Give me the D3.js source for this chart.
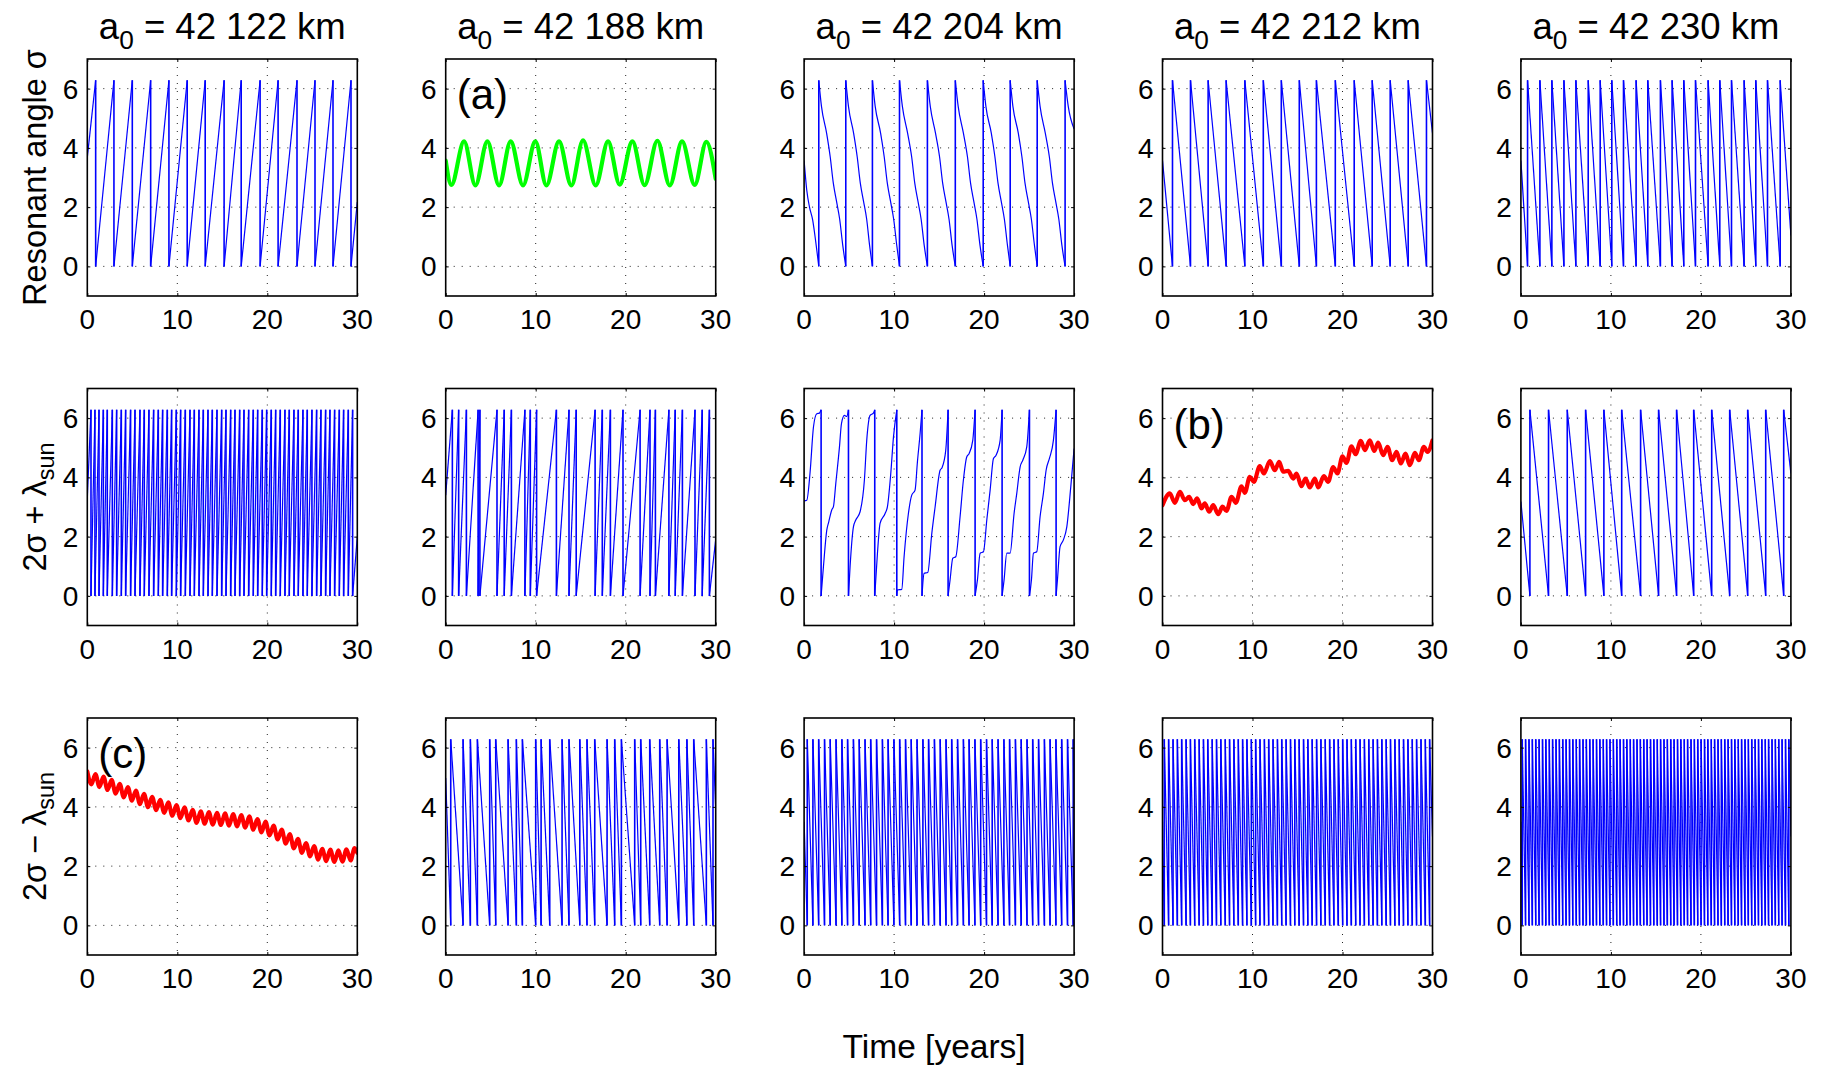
<!DOCTYPE html>
<html><head><meta charset="utf-8">
<script src="https://cdn.jsdelivr.net/npm/d3@7"></script>
<style>
body{margin:0;background:#fff}
svg text{font-family:"Liberation Sans",Arial,Helvetica,sans-serif;fill:#000}
</style></head>
<body><svg id="chart" width="1825" height="1069"></svg>
<script>
// ---------- shared axis data ----------
const TOP = 6.283;                 // 2*pi
const xDomain = [0, 30];
const yDomain = [-1, 7];
const xTicks = [0, 10, 20, 30];
const yTicks = [0, 2, 4, 6];
const columnTitles = ["42 122", "42 188", "42 204", "42 212", "42 230"];
const xLabel = "Time [years]";

// ---------- row 1 : resonant angle sigma ----------
const r1c1Start = 3.68, r1c1End = 2.17; // rising saw
const r1c1Wraps = [0.93, 2.96, 5.0, 7.04, 9.07, 11.1, 13.1, 15.2, 17.1, 19.2, 21.2, 23.3, 25.3, 27.3, 29.3];
const r1c2Green = [[0,3.57],[0.63,2.75],[2.04,4.22],[3.3,2.73],[4.63,4.22],[5.93,2.73],[7.22,4.22],[8.59,2.73],[9.96,4.22],[11.19,2.73],[12.59,4.22],[13.96,2.73],[15.26,4.25],[16.67,2.73],[18.04,4.22],[19.33,2.76],[20.74,4.22],[22.1,2.74],[23.52,4.24],[24.9,2.73],[26.26,4.22],[27.67,2.75],[28.96,4.2],[30,2.95]];
const r1c3Points = [
[0,3.57],[0.3,2.56],[0.6,2.0],[0.96,1.55],[1.22,1.0],[1.63,0],
[1.63,6.28],[1.93,5.4],[2.5,4.5],[2.9,3.7],[3.25,2.8],[3.6,2.2],[3.95,1.6],[4.3,0.7],[4.63,0],
[4.63,6.28],[4.93,5.4],[5.5,4.5],[5.9,3.7],[6.25,2.8],[6.6,2.2],[6.95,1.6],[7.28,0.7],[7.59,0],
[7.59,6.28],[7.9,5.4],[8.5,4.5],[8.9,3.7],[9.25,2.8],[9.6,2.2],[9.95,1.6],[10.3,0.7],[10.6,0],
[10.6,6.28],[10.92,5.4],[11.5,4.5],[11.95,3.7],[12.3,2.8],[12.65,2.2],[13.0,1.6],[13.35,0.7],[13.7,0],
[13.7,6.28],[14.02,5.4],[14.6,4.5],[15.05,3.7],[15.4,2.8],[15.75,2.2],[16.1,1.6],[16.45,0.7],[16.8,0],
[16.8,6.28],[17.12,5.4],[17.7,4.5],[18.15,3.7],[18.5,2.8],[18.85,2.2],[19.2,1.6],[19.55,0.7],[19.9,0],
[19.9,6.28],[20.2,5.4],[20.8,4.5],[21.2,3.7],[21.55,2.8],[21.9,2.2],[22.25,1.6],[22.6,0.7],[22.9,0],
[22.9,6.28],[23.2,5.4],[23.8,4.5],[24.2,3.7],[24.55,2.8],[24.9,2.2],[25.25,1.6],[25.6,0.7],[25.9,0],
[25.9,6.28],[26.22,5.4],[26.8,4.5],[27.25,3.7],[27.6,2.8],[27.95,2.2],[28.3,1.6],[28.65,0.7],[29.0,0],
[29.0,6.28],[29.35,5.4],[30,4.64]];
const r1c4Start = 3.57, r1c4End = 4.5; // falling saw
const r1c4Wraps = [1.11, 3.11, 5.07, 7.07, 9.15, 11.2, 13.2, 15.2, 17.1, 19.2, 21.3, 23.3, 25.3, 27.3, 29.33];
const r1c5Start = 3.57, r1c5End = 1.04; // falling saw
const r1c5Wraps = [0.74, 2.11, 3.44, 4.78, 6.11, 7.48, 8.81, 10.1, 11.4, 12.8, 14.1, 15.5, 16.8, 18.1, 19.4, 20.8, 22.1, 23.4, 24.8, 26.1, 27.4, 28.81];

// ---------- row 2 : 2 sigma + lambda_sun ----------
const r2c1Start = 3.3, r2c1End = 2.0; // rising saw
const r2c1Wraps = [0.41,0.85,1.3,1.78,2.22,2.78,3.26,3.78,4.26,4.81,5.3,5.85,6.33,6.85,7.37,7.89,8.37,8.89,9.37,9.89,10.37,10.89,11.41,11.89,12.41,12.89,13.41,13.89,14.41,14.93,15.41,15.93,16.41,16.93,17.41,17.93,18.44,18.93,19.44,19.93,20.44,20.93,21.44,21.96,22.44,22.96,23.44,23.96,24.44,24.96,25.48,25.96,26.48,26.96,27.48,28.0,28.48,29.0,29.48];
const r2c2Start = 3.4, r2c2End = 1.9; // rising saw
const r2c2Wraps = [0.74,1.44,2.3,3.6,3.8,5.7,6.5,7.3,8.8,9.4,10.1,12.3,13.7,14.5,16.6,17.4,18.3,19.7,21.6,22.7,23.3,24.8,25.5,26.3,27.7,28.5,29.3];
const r2c3Points = [
[0,3.21],[0.3,3.23],[0.67,4.19],[1.04,5.7],[1.41,6.15],[1.7,6.17],[1.89,6.28],
[1.89,0],[2.15,0.99],[2.52,2.22],[2.74,2.5],[3.07,2.9],[3.26,3.01],[3.52,3.79],[3.93,5.03],[4.15,5.81],[4.48,6.09],[4.74,6.06],[4.93,6.28],
[4.93,0],[5.11,0.99],[5.48,2.33],[5.74,2.56],[6.22,2.84],[6.7,3.91],[6.96,5.25],[7.33,6.09],[7.7,6.17],[7.85,6.28],
[7.85,0],[8.15,1.44],[8.44,2.45],[9.0,2.78],[9.26,3.01],[9.63,4.13],[9.93,5.36],[10.3,6.28],
[10.3,0],[10.37,0.2],[10.85,0.22],[11.11,1.32],[11.59,2.78],[11.96,3.4],[12.33,3.57],[12.59,4.52],[12.89,5.48],[13.1,6.28],
[13.1,0],[13.33,0.76],[13.74,0.79],[14.19,2.11],[14.56,3.01],[15.11,4.24],[15.33,4.33],[15.74,4.92],[16.0,6.28],
[16.0,0],[16.22,0.54],[16.52,1.27],[16.85,1.32],[17.33,2.67],[17.7,3.91],[18.07,4.69],[18.33,4.8],[18.74,5.25],[19.0,6.28],
[19.0,0],[19.26,0.54],[19.56,1.44],[19.93,1.49],[20.3,2.56],[20.67,3.57],[21.04,4.64],[21.33,4.75],[21.78,5.25],[22.0,6.28],
[22.0,0],[22.22,0.54],[22.52,1.44],[22.89,1.44],[23.33,2.78],[23.63,3.46],[24.0,4.35],[24.3,4.58],[24.74,5.03],[25.04,6.28],
[25.04,0],[25.26,0.54],[25.48,1.44],[25.85,1.49],[26.22,2.67],[26.59,3.46],[26.89,4.24],[27.26,4.64],[27.7,5.25],[28.0,6.28],
[28.0,0],[28.15,0.54],[28.44,1.66],[28.81,1.89],[29.19,2.33],[29.63,3.68],[30,4.97]];
const r2c4Red = [[0,3.06],[0.81,3.46],[1.37,3.14],[1.93,3.51],[2.48,3.23],[2.96,3.34],[3.41,3.1],[3.85,3.29],[4.33,2.95],[4.7,3.12],[5.19,2.84],[5.63,3.06],[6.19,2.76],[6.67,3.01],[7.11,2.87],[7.67,3.34],[8.15,3.14],[8.78,3.7],[9.15,3.48],[9.7,4.02],[10.15,3.85],[10.81,4.38],[11.26,4.13],[11.93,4.55],[12.48,4.24],[12.96,4.52],[13.41,4.19],[13.96,4.22],[14.52,3.96],[14.89,4.13],[15.44,3.7],[15.89,3.96],[16.37,3.66],[16.93,3.96],[17.3,3.66],[17.93,4.04],[18.41,3.85],[18.96,4.35],[19.44,4.13],[20.0,4.71],[20.44,4.49],[21.0,5.05],[21.44,4.78],[22.04,5.23],[22.48,4.92],[23.04,5.25],[23.52,4.89],[23.96,5.17],[24.52,4.75],[25.0,5.03],[25.52,4.58],[26.0,4.86],[26.48,4.47],[27.0,4.8],[27.48,4.41],[28.04,4.83],[28.48,4.58],[29.04,5.03],[29.44,4.86],[30,5.25]];
const r2c5Start = 3.18, r2c5End = 4.13; // falling saw
const r2c5Wraps = [1.0, 3.07, 5.15, 7.19, 9.22, 11.2, 13.3, 15.3, 17.3, 19.2, 21.2, 23.2, 25.2, 27.2, 29.2];

// ---------- row 3 : 2 sigma - lambda_sun ----------
const r3c1Red = [[0,5.2],[0.45,4.76],[0.9,5.11],[1.35,4.67],[1.8,5.02],[2.25,4.57],[2.7,4.91],[3.15,4.45],[3.6,4.78],[4.05,4.32],[4.5,4.67],[4.95,4.21],[5.4,4.55],[5.85,4.09],[6.3,4.44],[6.75,3.99],[7.2,4.34],[7.65,3.89],[8.1,4.24],[8.55,3.8],[9.0,4.15],[9.45,3.7],[9.9,4.06],[10.35,3.62],[10.8,3.98],[11.25,3.54],[11.7,3.9],[12.15,3.46],[12.6,3.85],[13.05,3.43],[13.5,3.82],[13.95,3.4],[14.4,3.8],[14.85,3.39],[15.3,3.78],[15.75,3.37],[16.2,3.76],[16.65,3.34],[17.1,3.72],[17.55,3.3],[18.0,3.68],[18.45,3.23],[18.9,3.59],[19.35,3.14],[19.8,3.5],[20.25,3.04],[20.7,3.37],[21.15,2.9],[21.6,3.23],[22.05,2.76],[22.5,3.08],[22.95,2.6],[23.4,2.92],[23.85,2.45],[24.3,2.78],[24.75,2.33],[25.2,2.68],[25.65,2.22],[26.1,2.58],[26.55,2.17],[27.0,2.56],[27.45,2.14],[27.9,2.53],[28.35,2.15],[28.8,2.57],[29.25,2.19],[29.7,2.61],[30,2.45]];
const r3c2Start = 4.97, r3c2End = 3.9; // falling saw
const r3c2Wraps = [0.56,1.93,2.74,3.52,4.89,5.56,6.93,7.85,8.52,10.0,10.6,11.56,12.93,13.7,14.9,15.7,16.56,17.93,18.78,19.52,21.0,21.67,22.67,23.78,24.6,25.9,26.8,27.56,28.96,29.7];
const r3c3Start = 3.5, r3c3End = 3.0; // falling saw
const r3c3Wraps = [0.35,0.98,1.62,2.27,2.9,3.55,4.2,4.83,5.48,6.12,6.77,7.4,8.05,8.7,9.33,9.98,10.62,11.27,11.9,12.55,13.2,13.83,14.48,15.12,15.77,16.4,17.05,17.7,18.33,18.98,19.62,20.27,20.9,21.55,22.2,22.83,23.48,24.12,24.77,25.4,26.05,26.7,27.33,27.98,28.62,29.27,29.9];
const r3c4Start = 3.5, r3c4End = 3.0; // falling saw
const r3c4Wraps = [0.2,0.68,1.17,1.65,2.13,2.62,3.1,3.58,4.07,4.55,5.03,5.52,6.0,6.48,6.97,7.45,7.93,8.42,8.9,9.38,9.87,10.35,10.83,11.32,11.8,12.28,12.77,13.25,13.73,14.22,14.7,15.18,15.67,16.15,16.63,17.12,17.6,18.08,18.57,19.05,19.53,20.02,20.5,20.98,21.47,21.95,22.43,22.92,23.4,23.88,24.37,24.85,25.33,25.82,26.3,26.78,27.27,27.75,28.23,28.72,29.2,29.68];
const r3c5Start = 3.5, r3c5End = 3.0; // falling saw
const r3c5Wraps = [0.15,0.52,0.9,1.27,1.65,2.02,2.4,2.77,3.15,3.52,3.9,4.27,4.65,5.02,5.4,5.77,6.15,6.52,6.9,7.27,7.65,8.02,8.4,8.77,9.15,9.52,9.9,10.27,10.65,11.02,11.4,11.77,12.15,12.52,12.9,13.27,13.65,14.02,14.4,14.77,15.15,15.52,15.9,16.27,16.65,17.02,17.4,17.77,18.15,18.52,18.9,19.27,19.65,20.02,20.4,20.77,21.15,21.52,21.9,22.27,22.65,23.02,23.4,23.77,24.15,24.52,24.9,25.27,25.65,26.02,26.4,26.77,27.15,27.52,27.9,28.27,28.65,29.02,29.4,29.77];

// ---------- panel table ----------
const panels = [
 {row:0,col:0,type:"saw",dir:"up",start:r1c1Start,wraps:r1c1Wraps,end:r1c1End},
 {row:0,col:1,type:"smooth",points:r1c2Green,color:"#00ff00",label:"(a)"},
 {row:0,col:2,type:"curve",points:r1c3Points},
 {row:0,col:3,type:"saw",dir:"down",start:r1c4Start,wraps:r1c4Wraps,end:r1c4End},
 {row:0,col:4,type:"saw",dir:"down",start:r1c5Start,wraps:r1c5Wraps,end:r1c5End},
 {row:1,col:0,type:"saw",dir:"up",start:r2c1Start,wraps:r2c1Wraps,end:r2c1End},
 {row:1,col:1,type:"saw",dir:"up",start:r2c2Start,wraps:r2c2Wraps,end:r2c2End},
 {row:1,col:2,type:"curve",points:r2c3Points},
 {row:1,col:3,type:"smooth",points:r2c4Red,color:"#ff0000",label:"(b)"},
 {row:1,col:4,type:"saw",dir:"down",start:r2c5Start,wraps:r2c5Wraps,end:r2c5End},
 {row:2,col:0,type:"smooth",points:r3c1Red,color:"#ff0000",label:"(c)"},
 {row:2,col:1,type:"saw",dir:"down",start:r3c2Start,wraps:r3c2Wraps,end:r3c2End},
 {row:2,col:2,type:"saw",dir:"down",start:r3c3Start,wraps:r3c3Wraps,end:r3c3End},
 {row:2,col:3,type:"saw",dir:"down",start:r3c4Start,wraps:r3c4Wraps,end:r3c4End},
 {row:2,col:4,type:"saw",dir:"down",start:r3c5Start,wraps:r3c5Wraps,end:r3c5End}
];

// ---------- layout ----------
const left0 = 87.3, colStep = 358.4, W = 270;
const top0 = 59, rowStep = 329.5, H = 237;
const tickFont = 28, titleFont = 36.5, labelFont = 32.5, xLabelFont = 33.5, panelFont = 42;

const svg = d3.select("#chart");
const x = d3.scaleLinear().domain(xDomain).range([0, W]);
const y = d3.scaleLinear().domain(yDomain).range([H, 0]);

// build saw point list (connect data points; vertical jumps at wraps)
function sawPoints(p){
  const lo = 0, hi = TOP;
  const pts = [[0, p.start]];
  p.wraps.forEach(w => {
    if (p.dir === "up") { pts.push([w, hi]); pts.push([w, lo]); }
    else { pts.push([w, lo]); pts.push([w, hi]); }
  });
  pts.push([30, p.end]);
  return pts;
}
function branches(pts){
  const out = []; let cur = [pts[0]];
  for (let i = 1; i < pts.length; i++){
    if (pts[i][0] === pts[i-1][0]) { out.push(cur); cur = [pts[i]]; }
    else cur.push(pts[i]);
  }
  out.push(cur);
  return out;
}

const lineLin = d3.line().x(d => x(d[0])).y(d => y(d[1]));
const lineSmooth = d3.line().x(d => x(d[0])).y(d => y(d[1])).curve(d3.curveMonotoneX);

panels.forEach((p, i) => {
  const g = svg.append("g").attr("transform", `translate(${left0 + p.col*colStep},${top0 + p.row*rowStep})`);
  const clipId = "clip" + i;
  g.append("clipPath").attr("id", clipId).append("rect").attr("width", W).attr("height", H);

  // grid
  const grid = g.append("g").attr("stroke", "#222").attr("stroke-width", 1).attr("stroke-dasharray", "1,7");
  xTicks.slice(1, -1).forEach(t => grid.append("line").attr("x1", x(t)).attr("x2", x(t)).attr("y1", 0).attr("y2", H));
  yTicks.forEach(t => grid.append("line").attr("x1", 0).attr("x2", W).attr("y1", y(t)).attr("y2", y(t)));

  // data
  const dg = g.append("g").attr("clip-path", `url(#${clipId})`).attr("fill", "none");
  if (p.type === "smooth") {
    dg.append("path").attr("d", lineSmooth(p.points)).attr("stroke", p.color).attr("stroke-width", 4.2).attr("stroke-linejoin","round").attr("stroke-linecap","round");
  } else {
    const pts = p.type === "saw" ? sawPoints(p) : p.points;
    const br = branches(pts);
    br.forEach((b, k) => {
      dg.append("path").attr("d", (p.type === "curve" ? lineSmooth : lineLin)(b)).attr("stroke", "#0000ff").attr("stroke-width", 1.2);
      if (k > 0) {
        const a = br[k-1][br[k-1].length-1];
        dg.append("path").attr("d", lineLin([a, b[0]])).attr("stroke", "#0000ff").attr("stroke-width", 1.6);
      }
    });
  }

  // axes (MATLAB style: inward ticks on all four sides)
  const tl = 3;
  g.append("g").attr("transform", `translate(0,${H})`).call(d3.axisBottom(x).tickValues(xTicks).tickSizeInner(-tl).tickSizeOuter(0).tickFormat("")).call(a => a.select(".domain").remove());
  g.append("g").call(d3.axisTop(x).tickValues(xTicks).tickSizeInner(-tl).tickSizeOuter(0).tickFormat("")).call(a => a.select(".domain").remove());
  g.append("g").call(d3.axisLeft(y).tickValues(yTicks).tickSizeInner(-tl).tickSizeOuter(0).tickFormat("")).call(a => a.select(".domain").remove());
  g.append("g").attr("transform", `translate(${W},0)`).call(d3.axisRight(y).tickValues(yTicks).tickSizeInner(-tl).tickSizeOuter(0).tickFormat("")).call(a => a.select(".domain").remove());
  g.selectAll(".tick line").attr("stroke", "#000").attr("stroke-width", 1);
  g.append("rect").attr("width", W).attr("height", H).attr("fill", "none").attr("stroke", "#000").attr("stroke-width", 1.6);

  // tick labels
  xTicks.forEach(t => g.append("text").attr("x", x(t)).attr("y", H + 33).attr("text-anchor", "middle").attr("font-size", tickFont).text(t));
  yTicks.forEach(t => g.append("text").attr("x", -9).attr("y", y(t)).attr("dy", "0.36em").attr("text-anchor", "end").attr("font-size", tickFont).text(t));

  if (p.label) g.append("text").attr("x", 11).attr("y", 50).attr("font-size", panelFont).text(p.label);
});

// column titles
columnTitles.forEach((t, c) => {
  const tx = svg.append("text").attr("x", left0 + c*colStep + W/2).attr("y", 39).attr("text-anchor", "middle").attr("font-size", titleFont);
  tx.append("tspan").text("a");
  tx.append("tspan").attr("dy", 10).attr("font-size", titleFont*0.72).text("0");
  tx.append("tspan").attr("dy", -10).text(" = " + t + " km");
});

// row labels
const rowLabelParts = [
  [["Resonant angle σ", 0]],
  [["2σ + λ", 0], ["sun", 1]],
  [["2σ − λ", 0], ["sun", 1]]
];
rowLabelParts.forEach((parts, r) => {
  const cy = top0 + r*rowStep + H/2;
  const tx = svg.append("text").attr("transform", `translate(46,${cy}) rotate(-90)`).attr("text-anchor", "middle").attr("font-size", labelFont);
  parts.forEach(([s, sub]) => {
    const ts = tx.append("tspan").text(s);
    if (sub) ts.attr("dy", 8).attr("font-size", labelFont*0.72);
  });
});

svg.append("text").attr("x", left0 + (4*colStep + W)/2 - 5).attr("y", 1058).attr("text-anchor", "middle").attr("font-size", xLabelFont).text(xLabel);
</script></body></html>
